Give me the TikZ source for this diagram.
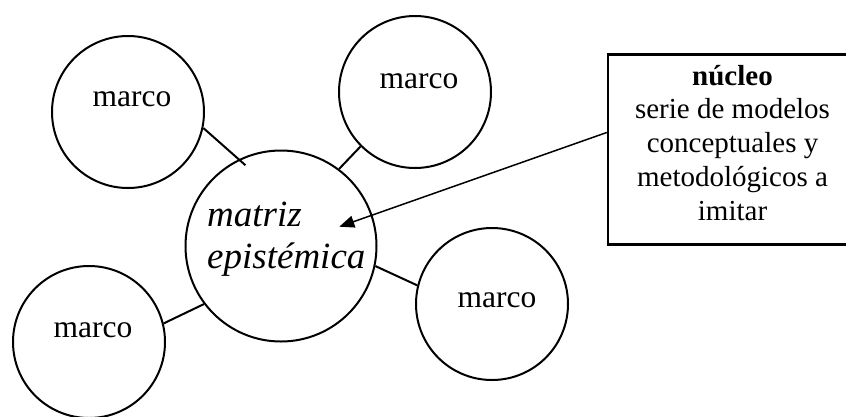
\documentclass[tikz,border=0pt]{standalone}
\usepackage{fontspec}
\setmainfont{Liberation Serif}
\usetikzlibrary{arrows.meta}
\begin{document}
\begin{tikzpicture}[x=1pt,y=-1pt,
  frame/.style={circle,draw,line width=2pt,inner sep=0pt,minimum size=152pt},
  hub/.style={circle,draw,line width=2pt,inner sep=0pt,minimum size=191pt},
  link/.style={line width=2pt},
  word/.style={anchor=base,inner sep=0pt,font=\fontsize{31.5}{36}\selectfont},
  hubtext/.style={anchor=north west,inner sep=0pt,align=left,
    font=\fontsize{37}{42}\selectfont\itshape},
  notebox/.style={draw,line width=2.7pt,inner sep=0pt,minimum width=249pt,minimum height=189.6pt},
  notetext/.style={anchor=north,inner sep=0pt,align=center,
    font=\fontsize{29}{33.7}\selectfont},
  pointer/.style={line width=1.5pt,-{Triangle[length=15pt,width=12pt]}}]
\useasboundingbox (0,0) rectangle (846,416);
\clip (0,0) rectangle (846,416);

% central matrix and the four frames around it
\node[hub]   (c)  at (281,246) {};
\node[frame] (tl) at (128,112) {};
\node[frame] (tm) at (415,92)  {};
\node[frame] (r)  at (492,304) {};
\node[frame] (bl) at (89,342)  {};

\node[hubtext] (ctext) at (207,196) {\rule{0pt}{30pt}matriz\\epistémica};
\node[word] (tltext) at (132,106) {marco};
\node[word] (tmtext) at (419,88)  {marco};
\node[word] (rtext)  at (497,307) {marco};
\node[word] (bltext) at (93,337)  {marco};

% links between frames and the matrix
\draw[link,shorten >=-9pt] (tl.-12) -- (c.116);
\draw[link] (tm.225) -- (c.53);
\draw[link] (c.-12) -- (r.166);
\draw[link] (bl.14) -- (c.217);

% core note
\node[notebox] (box) at (732.6,149.5) {};
\node[notetext] (boxtext) at (732.5,60) {\rule{0pt}{25pt}\textbf{núcleo}\\serie de modelos\\conceptuales y\\metodológicos a\\imitar};

\coordinate (tip) at (339.3,226.7);
\draw[pointer] ([yshift=17pt]box.west) -- (tip);
\end{tikzpicture}
\end{document}
